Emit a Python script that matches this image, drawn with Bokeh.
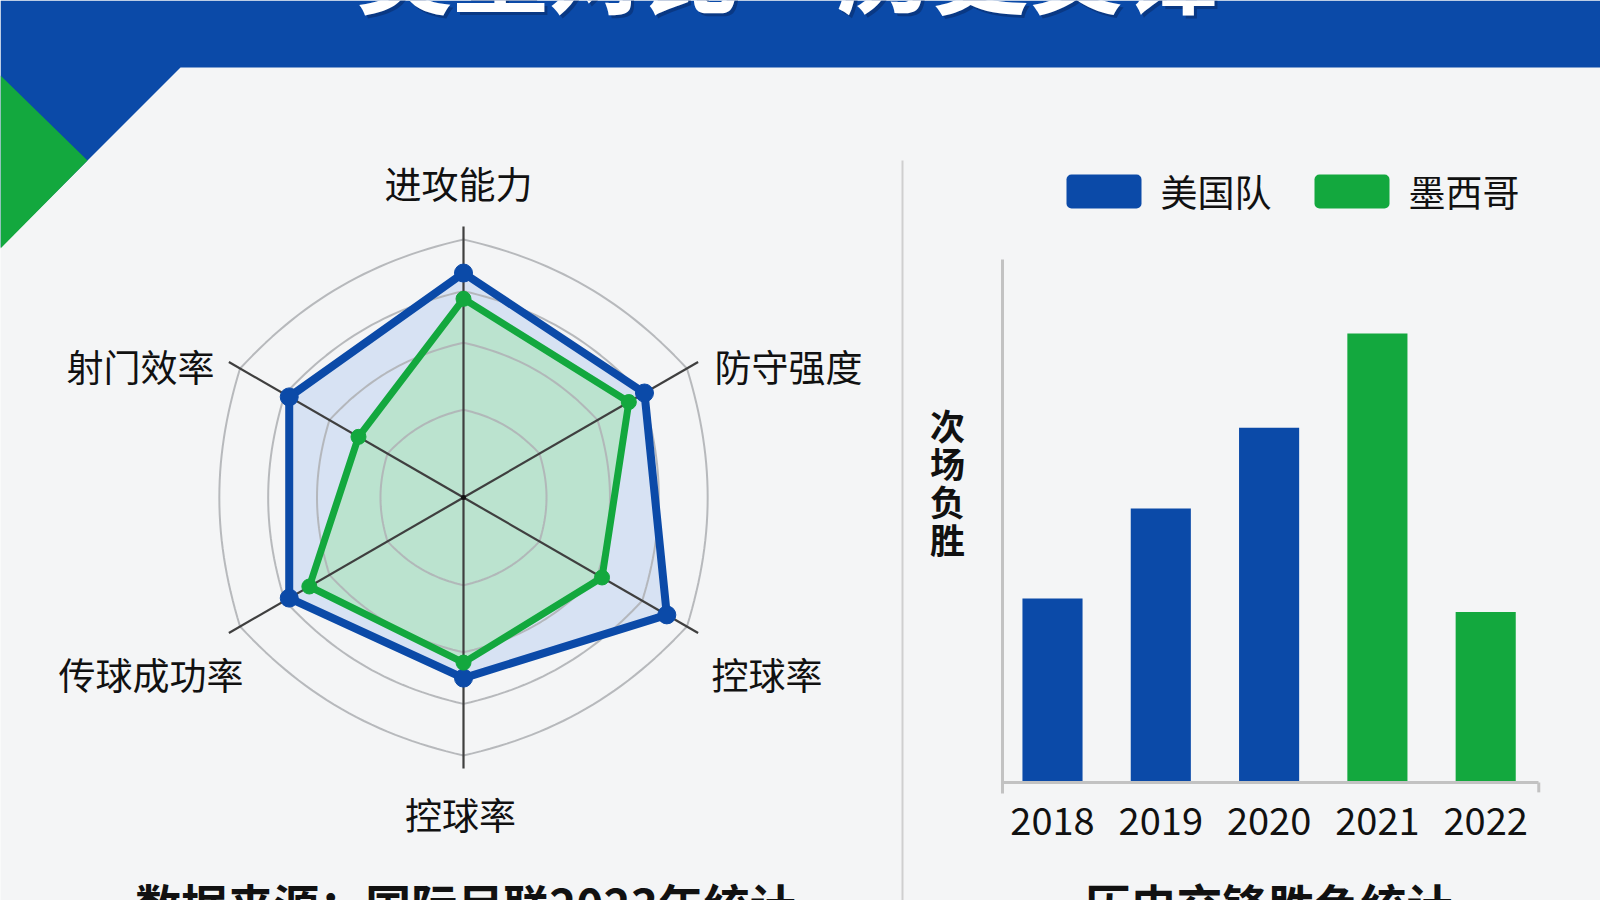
import math
from bokeh.plotting import figure
from bokeh.models import Range1d, LinearAxis, FixedTicker, ColumnDataSource
from bokeh.core.properties import value
from bokeh.embed import file_html
from bokeh.resources import INLINE

# ---------------- data ----------------
title_text = "美墨对比·历史交锋"
radar_axes = ["进攻能力", "防守强度", "控球率", "控球率", "传球成功率", "射门效率"]
usa_scores = [87, 81, 91, 70, 78, 78]
mex_scores = [77, 74, 62, 64, 69, 47]
grid_levels = [34, 60, 80, 100]
teams = ["美国队", "墨西哥"]
years = [2018, 2019, 2020, 2021, 2022]
year_values = [4.1, 6.1, 7.9, 10.0, 3.8]
year_winner = ["美国队", "美国队", "美国队", "墨西哥", "墨西哥"]
bar_ylabel = "次场负胜"
radar_note = "数据来源：国际足联2023年统计"
bar_note = "历史交锋胜负统计"

# ---------------- style ----------------
BG = "#f4f5f6"
BLUE = "#0b4aa8"
GREEN = "#13a83e"
CJK = value("Noto Sans CJK SC")
W, H = 1600, 900
X0, Y0 = 0, 0

p = figure(width=W, height=H, x_range=Range1d(X0, X0 + W), y_range=Range1d(Y0 + H, Y0),
           x_axis_type=None, y_axis_type=None, toolbar_location=None,
           output_backend="svg", min_border=0, title=None,
           background_fill_color=BG, border_fill_color=BG, outline_line_color=None)
p.grid.visible = False

# radar scale (score units -> pixels)
K = 2.58
CX, CY = 463, 497
p.extra_x_ranges["rx"] = Range1d(-(CX - X0) / K, (X0 + W - CX) / K)
p.extra_y_ranges["ry"] = Range1d(-(Y0 + H - CY) / K, (CY - Y0) / K)

# bar scale
BXS, BYS = 108.3, 44.9
X_FIRST, ZERO_Y = 1052, 782
p.extra_x_ranges["bx"] = Range1d(years[0] - (X_FIRST - X0) / BXS, years[0] + (X0 + W - X_FIRST) / BXS)
p.extra_y_ranges["by"] = Range1d(-(Y0 + H - ZERO_Y) / BYS, (ZERO_Y - Y0) / BYS)

# ---------------- background decoration ----------------
p.patch([0, 1600, 1600, 180, 0], [0, 0, 67, 67, 247], fill_color=BLUE, line_color=None)
p.patch([0, 87, 0], [75, 160, 248], fill_color=GREEN, line_color=None)

# title (mostly cropped by the top edge, as in the reference)
p.text(x=[791], y=[-33], text=[title_text], text_align="center", text_baseline="middle",
       text_font=CJK, text_font_style="bold", text_font_size="96px", text_color="#0a2a66",
       text_alpha=0.55)
p.text(x=[788], y=[-36], text=[title_text], text_align="center", text_baseline="middle",
       text_font=CJK, text_font_style="bold", text_font_size="96px", text_color="white")

# divider
p.segment(x0=[902], y0=[160], x1=[902], y1=[900], line_color="#cfcfcf", line_width=2)

# ---------------- radar ----------------
ang = [math.radians(90 - 60 * i) for i in range(len(radar_axes))]

def polar(vals):
    xs = [v * math.cos(a) for v, a in zip(vals, ang)]
    ys = [v * math.sin(a) for v, a in zip(vals, ang)]
    return xs, ys

ux, uy = polar(usa_scores)
mx, my = polar(mex_scores)

p.patch(ux, uy, fill_color="#b9cff0", fill_alpha=0.5, line_color=None,
        x_range_name="rx", y_range_name="ry")
p.patch(mx, my, fill_color="#a8e4b8", fill_alpha=0.6, line_color=None,
        x_range_name="rx", y_range_name="ry")

# rings: rounded hexagons
for L in grid_levels:
    rxs, rys = [], []
    for d in range(0, 361, 2):
        phi = ((d + 30) % 60) - 30
        r = L * (0.6 + 0.4 * math.cos(math.radians(30)) / math.cos(math.radians(phi)))
        rxs.append(r * math.cos(math.radians(d)))
        rys.append(r * math.sin(math.radians(d)))
    p.line(rxs, rys, line_color="#b0b3b6", line_width=2, line_alpha=0.9,
           x_range_name="rx", y_range_name="ry")

# spokes
SP = 105
p.segment(x0=[0] * 6, y0=[0] * 6, x1=[SP * math.cos(a) for a in ang],
          y1=[SP * math.sin(a) for a in ang], line_color="#3f3f3f", line_width=2.2,
          x_range_name="rx", y_range_name="ry")

p.line(ux + ux[:1], uy + uy[:1], line_color=BLUE, line_width=8, line_join="round",
       x_range_name="rx", y_range_name="ry")
p.line(mx + mx[:1], my + my[:1], line_color=GREEN, line_width=7, line_join="round",
       x_range_name="rx", y_range_name="ry")
p.scatter(ux, uy, size=18, fill_color=BLUE, line_color=BLUE, x_range_name="rx", y_range_name="ry")
p.scatter(mx, my, size=15, fill_color=GREEN, line_color=GREEN, x_range_name="rx", y_range_name="ry")
p.scatter([0], [0], size=5, fill_color="#111111", line_color=None, x_range_name="rx", y_range_name="ry")

# radar labels
lab_x = [458, 714, 711, 460, 243, 214]
lab_y = [182, 365, 673, 813, 673, 365]
lab_align = ["center", "left", "left", "center", "right", "right"]
p.text(x=lab_x, y=lab_y, text=radar_axes, text_align=lab_align, text_baseline="middle",
       text_font=CJK, text_font_size="37px", text_color="#111111")

# ---------------- bars ----------------
team_color = {teams[0]: BLUE, teams[1]: GREEN}
bar_src = ColumnDataSource(dict(year=years, val=year_values,
                                color=[team_color[w] for w in year_winner]))
p.vbar(x="year", top="val", bottom=0, width=0.555, fill_color="color", line_color=None,
       source=bar_src, x_range_name="bx", y_range_name="by")

xa = LinearAxis(x_range_name="bx", y_range_name="by", fixed_location=0,
                bounds=(2017.54, 2022.49), ticker=FixedTicker(ticks=years),
                axis_line_color="#c2c2c2", axis_line_width=3,
                major_tick_line_color=None, minor_tick_line_color=None,
                major_tick_out=0, major_tick_in=0,
                major_label_standoff=24, major_label_text_font="Noto Sans CJK SC",
                major_label_text_font_size="38px", major_label_text_color="#111111")
p.add_layout(xa, "below")
ya = LinearAxis(x_range_name="bx", y_range_name="by", fixed_location=2017.54,
                bounds=(-0.25, 11.65), ticker=FixedTicker(ticks=[]),
                axis_line_color="#c2c2c2", axis_line_width=3,
                major_tick_line_color=None, minor_tick_line_color=None,
                major_tick_out=0, major_tick_in=0, major_label_text_font_size="0px")
p.add_layout(ya, "left")
p.segment(x0=[2022.49], y0=[0], x1=[2022.49], y1=[-0.22], line_color="#c2c2c2", line_width=3,
          x_range_name="bx", y_range_name="by")

# stacked vertical y label
yl_chars = list(bar_ylabel)
p.text(x=[947] * len(yl_chars), y=[424 + 38 * i for i in range(len(yl_chars))], text=yl_chars,
       text_align="center", text_baseline="middle", text_font=CJK, text_font_style="bold",
       text_font_size="35px", text_color="#111111")

# legend (manual)
leg_x = [1066, 1314]
p.quad(left=leg_x, right=[x + 75 for x in leg_x], top=[174, 174], bottom=[208, 208],
       fill_color=[team_color[t] for t in teams], line_color=None, border_radius=5)
p.text(x=[x + 94 for x in leg_x], y=[190, 190], text=teams, text_align="left",
       text_baseline="middle", text_font=CJK, text_font_size="37px", text_color="#111111")

# bottom notes (cropped by the bottom edge, as in the reference)
p.text(x=[465, 1268], y=[902, 902], text=[radar_note, bar_note], text_align="center",
       text_baseline="middle", text_font=CJK, text_font_style="bold", text_font_size="46px",
       text_color="#111111")

open("out.html", "w").write(file_html(p, INLINE))
